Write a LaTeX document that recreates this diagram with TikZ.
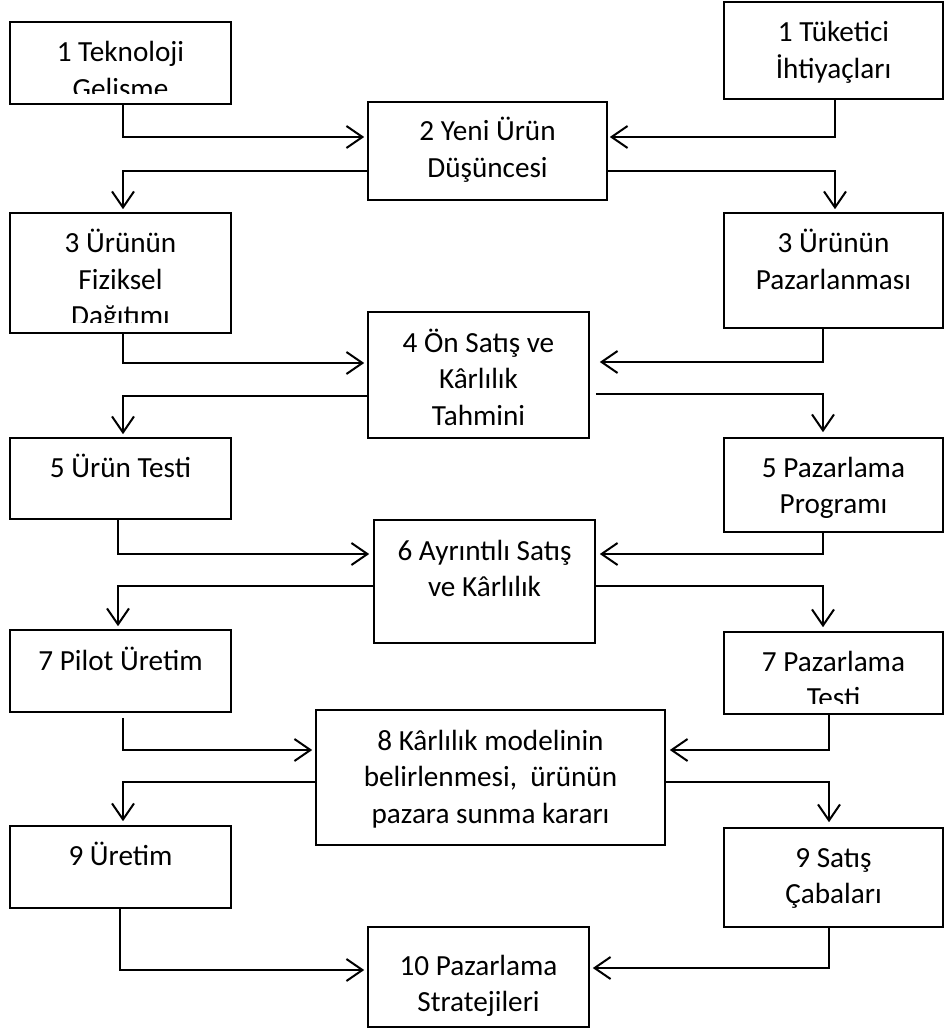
\documentclass[tikz,border=0pt]{standalone}
\usepackage{fontspec}
\setmainfont{Carlito}
\usetikzlibrary{arrows.meta,calc}
\tikzset{
  box/.style={draw, line width=1.6pt, inner sep=0pt, rectangle},
  txt/.style={inner sep=0pt, anchor=base, font=\fontsize{29.2}{36.5}\selectfont},
  conn/.style={line width=2pt, -{Straight Barb[length=16pt,width=22pt,line width=2pt]}}
}
% name, x1, y1, x2, y2, first baseline, text
\newcommand\mybox[7]{%
  \pgfmathsetmacro\cx{(#2+#4)/2}\pgfmathsetmacro\cy{(#3+#5)/2}%
  \pgfmathsetmacro\ww{#4-#2}\pgfmathsetmacro\hh{#5-#3}%
  \node[box, minimum width=\ww pt, minimum height=\hh pt] (#1) at (\cx,\cy) {};
  \node[txt] (#1t) at (\cx,#6) {\begin{tabular}[t]{@{}c@{}}#7\end{tabular}};
}
% same, text clipped at the given y
\newcommand\myboxclip[8]{%
  \pgfmathsetmacro\cx{(#2+#4)/2}\pgfmathsetmacro\cy{(#3+#5)/2}%
  \pgfmathsetmacro\ww{#4-#2}\pgfmathsetmacro\hh{#5-#3}%
  \node[box, minimum width=\ww pt, minimum height=\hh pt] (#1) at (\cx,\cy) {};
  \begin{scope}
    \clip (#2,#3) rectangle (#4,#8);
    \node[txt] (#1t) at (\cx,#6) {\begin{tabular}[t]{@{}c@{}}#7\end{tabular}};
  \end{scope}
}
\begin{document}
\begin{tikzpicture}[x=1pt,y=-1pt]
\useasboundingbox (0,0) rectangle (944,1032);

\myboxclip{tekno}{10}{22}{231}{104}{62}{1 Teknoloji\\Gelisme}{94}
\mybox{tuket}{724}{2}{943}{99}{42}{1 Tüketici\\İhtiyaçları}
\mybox{yeni}{368}{102}{607}{200}{141}{2 Yeni Ürün\\Düşüncesi}
\myboxclip{fiz}{10}{213}{231}{333}{252.5}{3 Ürünün\\Fiziksel\\Dağıtımı}{322}
\mybox{paz3}{724}{213}{943}{328}{252.5}{3 Ürünün\\Pazarlanması}
\mybox{on4}{368}{312}{589}{438}{352}{4 Ön Satış ve\\Kârlılık\\Tahmini}
\mybox{test5}{10}{438}{231}{519}{477}{5 Ürün Testi}
\mybox{prog5}{724}{438}{943}{532}{477}{5 Pazarlama\\Programı}
\mybox{ayr6}{374}{520}{595}{643}{560}{6 Ayrıntılı Satış\\ve Kârlılık}
\mybox{pilot7}{10}{630}{231}{712}{670}{7 Pilot Üretim}
\myboxclip{ptest7}{724}{632}{943}{714}{671}{7 Pazarlama\\Testi}{703.5}
\mybox{karl8}{316}{710}{665}{845}{750}{8 Kârlılık modelinin\\belirlenmesi,\ \ ürünün\\pazara sunma kararı}
\mybox{uret9}{10}{826}{231}{908}{865}{9 Üretim}
\mybox{satis9}{724}{828}{943}{927}{867}{9 Satış\\Çabaları}
\mybox{strat10}{368}{927}{589}{1027}{975}{10 Pazarlama\\Stratejileri}

\draw[conn] ($(tekno.south)+(2.5,0)$) |- ($(yeni.west)+(-3,-14)$);
\draw[conn] ($(tuket.south)+(1.5,0)$) |- ($(yeni.east)+(2,-14)$);
\draw[conn] ($(yeni.west)+(0,20)$) -| ($(fiz.north)+(2.5,-3)$);
\draw[conn] ($(yeni.east)+(0,20)$) -| ($(paz3.north)+(1.5,-3)$);
\draw[conn] ($(fiz.south)+(2.5,0)$) |- ($(on4.west)+(-3,-12)$);
\draw[conn] ($(paz3.south)+(-10.5,0)$) |- ($(on4.east)+(10,-13)$);
\draw[conn] ($(on4.west)+(0,21)$) -| ($(test5.north)+(2.5,-3)$);
\draw[conn] ($(on4.east)+(6,19)$) -| ($(prog5.north)+(-10.5,-5)$);
\draw[conn] ($(test5.south)+(-2.5,0)$) |- ($(ayr6.west)+(-4,-27.5)$);
\draw[conn] ($(prog5.south)+(-10.5,0)$) |- ($(ayr6.east)+(4,-27.5)$);
\draw[conn] ($(ayr6.west)+(0,4.5)$) -| ($(pilot7.north)+(-2.5,-3)$);
\draw[conn] ($(ayr6.east)+(0,4.5)$) -| ($(ptest7.north)+(-10.5,-4)$);
\draw[conn] ($(pilot7.south)+(2.5,5)$) |- ($(karl8.west)+(-3,-27.5)$);
\draw[conn] ($(ptest7.south)+(-4.5,0)$) |- ($(karl8.east)+(4,-27.5)$);
\draw[conn] ($(karl8.west)+(0,4.5)$) -| ($(uret9.north)+(2.5,-4)$);
\draw[conn] ($(karl8.east)+(0,4.5)$) -| ($(satis9.north)+(-4.5,-5)$);
\draw[conn] ($(uret9.south)+(-0.5,0)$) |- ($(strat10.west)+(-3,-7)$);
\draw[conn] ($(satis9.south)+(-4.5,0)$) |- ($(strat10.east)+(3,-9)$);
\end{tikzpicture}
\end{document}
